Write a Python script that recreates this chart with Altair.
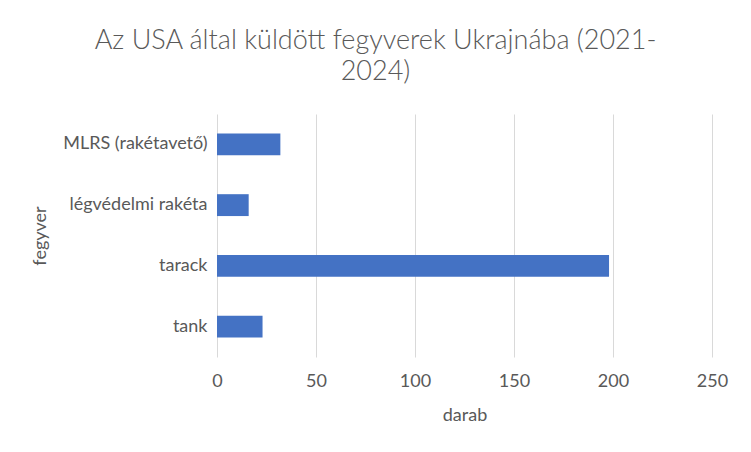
import altair as alt
import pandas as pd

categories = ["MLRS (rakétavető)", "légvédelmi rakéta", "tarack", "tank"]
values = [32, 16, 198, 23]
x_ticks = [0, 50, 100, 150, 200, 250]

df = pd.DataFrame({"fegyver": categories, "darab": values})

FONT = "Lato"
TXT = "#595959"

chart = alt.Chart(df).mark_bar(color="#4472C4").encode(
    x=alt.X("darab:Q",
            scale=alt.Scale(domain=[0, 250], nice=False),
            axis=alt.Axis(values=x_ticks, title="darab", grid=True, gridColor="#D9D9D9",
                          domain=False, ticks=False, labelPadding=15, labelFontSize=18,
                          labelFlush=False,
                          labelColor=TXT, titleFontSize=18, titleColor=TXT, titleFontWeight="normal",
                          titleY=58, titleBaseline="middle")),
    y=alt.Y("fegyver:N", sort=categories,
            scale=alt.Scale(paddingInner=0.64, paddingOuter=0.32),
            axis=alt.Axis(title="fegyver", domain=False, ticks=False, grid=False,
                          labelPadding=10, labelFontSize=18, labelColor=TXT,
                          titleFontSize=18, titleColor=TXT, titleFontWeight="normal",
                          titleX=-177, titleY=121.5, titleAngle=270, titleAlign="center",
                          titleBaseline="middle")),
).properties(
    width=495,
    height=243,
    autosize=alt.AutoSizeParams(type="none"),
    padding={"left": 209, "top": 106, "right": 31, "bottom": 87},
    title=alt.TitleParams(
        text=["Az USA által küldött fegyverek Ukrajnába (2021-", "2024)"],
        fontSize=27, font=FONT, fontWeight=300, color=TXT,
        anchor="middle", frame="group", dx=-89, offset=28, lineHeight=31,
    ),
).configure(font=FONT).configure_view(stroke=None)

chart.save("out.html", embed_options={"renderer": "svg", "actions": False})
